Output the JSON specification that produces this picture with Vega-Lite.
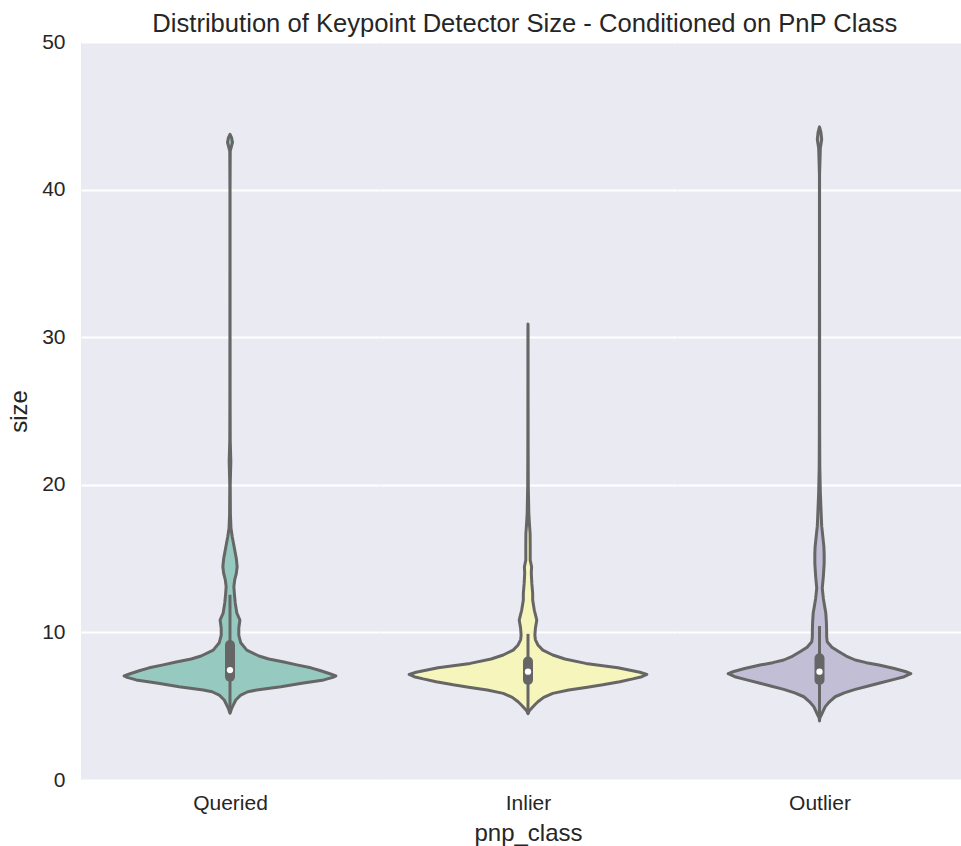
{
  "$schema": "https://vega.github.io/schema/vega-lite/v6.json",
  "background": "white",
  "padding": {"left": 7, "top": 12, "right": 0, "bottom": 4},
  "title": {"text": "Distribution of Keypoint Detector Size - Conditioned on PnP Class", "font": "Liberation Sans", "fontSize": 25.6, "fontWeight": "normal", "color": "#262626", "anchor": "middle", "dx": 40, "offset": -7},
  "spacing": 0,
  "bounds": "flush",
  "datasets": {
    "violin": [
      {"class": "Queried", "size": 4.52, "density": 0},
      {"class": "Queried", "size": 4.8, "density": 0.005},
      {"class": "Queried", "size": 5.0, "density": 0.010},
      {"class": "Queried", "size": 5.42, "density": 0.021},
      {"class": "Queried", "size": 5.75, "density": 0.039},
      {"class": "Queried", "size": 5.98, "density": 0.065},
      {"class": "Queried", "size": 6.1, "density": 0.097},
      {"class": "Queried", "size": 6.32, "density": 0.185},
      {"class": "Queried", "size": 6.55, "density": 0.261},
      {"class": "Queried", "size": 6.78, "density": 0.341},
      {"class": "Queried", "size": 6.95, "density": 0.374},
      {"class": "Queried", "size": 7.05, "density": 0.385},
      {"class": "Queried", "size": 7.2, "density": 0.363},
      {"class": "Queried", "size": 7.4, "density": 0.330},
      {"class": "Queried", "size": 7.6, "density": 0.294},
      {"class": "Queried", "size": 7.8, "density": 0.243},
      {"class": "Queried", "size": 8.0, "density": 0.196},
      {"class": "Queried", "size": 8.2, "density": 0.141},
      {"class": "Queried", "size": 8.4, "density": 0.105},
      {"class": "Queried", "size": 8.8, "density": 0.061},
      {"class": "Queried", "size": 9.3, "density": 0.039},
      {"class": "Queried", "size": 9.8, "density": 0.032},
      {"class": "Queried", "size": 10.3, "density": 0.032},
      {"class": "Queried", "size": 10.84, "density": 0.036},
      {"class": "Queried", "size": 11.3, "density": 0.025},
      {"class": "Queried", "size": 12.0, "density": 0.019},
      {"class": "Queried", "size": 12.6, "density": 0.016},
      {"class": "Queried", "size": 13.1, "density": 0.014},
      {"class": "Queried", "size": 13.55, "density": 0.017},
      {"class": "Queried", "size": 14.0, "density": 0.023},
      {"class": "Queried", "size": 14.45, "density": 0.026},
      {"class": "Queried", "size": 15.0, "density": 0.023},
      {"class": "Queried", "size": 15.8, "density": 0.015},
      {"class": "Queried", "size": 16.5, "density": 0.008},
      {"class": "Queried", "size": 17.05, "density": 0.0036},
      {"class": "Queried", "size": 18.0, "density": 0.0015},
      {"class": "Queried", "size": 20.0, "density": 0.0008},
      {"class": "Queried", "size": 21.6, "density": 0.003},
      {"class": "Queried", "size": 23.0, "density": 0.0008},
      {"class": "Queried", "size": 26.0, "density": 0.0004},
      {"class": "Queried", "size": 30.0, "density": 0.0003},
      {"class": "Queried", "size": 35.0, "density": 0.0002},
      {"class": "Queried", "size": 40.0, "density": 0.0002},
      {"class": "Queried", "size": 42.6, "density": 0.0008},
      {"class": "Queried", "size": 43.2, "density": 0.009},
      {"class": "Queried", "size": 43.5, "density": 0.006},
      {"class": "Queried", "size": 43.75, "density": 0},
      {"class": "Inlier", "size": 4.5, "density": 0},
      {"class": "Inlier", "size": 4.7, "density": 0.005},
      {"class": "Inlier", "size": 4.88, "density": 0.014},
      {"class": "Inlier", "size": 5.1, "density": 0.025},
      {"class": "Inlier", "size": 5.3, "density": 0.036},
      {"class": "Inlier", "size": 5.6, "density": 0.057},
      {"class": "Inlier", "size": 5.87, "density": 0.090},
      {"class": "Inlier", "size": 6.1, "density": 0.148},
      {"class": "Inlier", "size": 6.27, "density": 0.210},
      {"class": "Inlier", "size": 6.45, "density": 0.272},
      {"class": "Inlier", "size": 6.66, "density": 0.334},
      {"class": "Inlier", "size": 6.85, "density": 0.381},
      {"class": "Inlier", "size": 7.0, "density": 0.414},
      {"class": "Inlier", "size": 7.15, "density": 0.432},
      {"class": "Inlier", "size": 7.3, "density": 0.407},
      {"class": "Inlier", "size": 7.45, "density": 0.367},
      {"class": "Inlier", "size": 7.6, "density": 0.327},
      {"class": "Inlier", "size": 7.9, "density": 0.210},
      {"class": "Inlier", "size": 8.2, "density": 0.134},
      {"class": "Inlier", "size": 8.47, "density": 0.090},
      {"class": "Inlier", "size": 8.8, "density": 0.054},
      {"class": "Inlier", "size": 9.15, "density": 0.036},
      {"class": "Inlier", "size": 9.5, "density": 0.027},
      {"class": "Inlier", "size": 9.8, "density": 0.025},
      {"class": "Inlier", "size": 10.3, "density": 0.027},
      {"class": "Inlier", "size": 10.84, "density": 0.032},
      {"class": "Inlier", "size": 11.2, "density": 0.027},
      {"class": "Inlier", "size": 11.5, "density": 0.023},
      {"class": "Inlier", "size": 12.2, "density": 0.017},
      {"class": "Inlier", "size": 12.65, "density": 0.017},
      {"class": "Inlier", "size": 13.3, "density": 0.014},
      {"class": "Inlier", "size": 14.0, "density": 0.012},
      {"class": "Inlier", "size": 14.45, "density": 0.013},
      {"class": "Inlier", "size": 14.9, "density": 0.008},
      {"class": "Inlier", "size": 15.8, "density": 0.008},
      {"class": "Inlier", "size": 16.7, "density": 0.0076},
      {"class": "Inlier", "size": 17.4, "density": 0.005},
      {"class": "Inlier", "size": 18.07, "density": 0.003},
      {"class": "Inlier", "size": 19.87, "density": 0.0011},
      {"class": "Inlier", "size": 22.0, "density": 0.0006},
      {"class": "Inlier", "size": 25.0, "density": 0.0004},
      {"class": "Inlier", "size": 28.0, "density": 0.0003},
      {"class": "Inlier", "size": 30.5, "density": 0.0002},
      {"class": "Inlier", "size": 30.9, "density": 0},
      {"class": "Outlier", "size": 4.0, "density": 0},
      {"class": "Outlier", "size": 4.2, "density": 0.001},
      {"class": "Outlier", "size": 4.4, "density": 0.0065},
      {"class": "Outlier", "size": 4.7, "density": 0.014},
      {"class": "Outlier", "size": 4.97, "density": 0.021},
      {"class": "Outlier", "size": 5.3, "density": 0.036},
      {"class": "Outlier", "size": 5.64, "density": 0.057},
      {"class": "Outlier", "size": 5.9, "density": 0.090},
      {"class": "Outlier", "size": 6.14, "density": 0.130},
      {"class": "Outlier", "size": 6.35, "density": 0.174},
      {"class": "Outlier", "size": 6.55, "density": 0.216},
      {"class": "Outlier", "size": 6.8, "density": 0.268},
      {"class": "Outlier", "size": 7.0, "density": 0.308},
      {"class": "Outlier", "size": 7.2, "density": 0.332},
      {"class": "Outlier", "size": 7.35, "density": 0.312},
      {"class": "Outlier", "size": 7.55, "density": 0.272},
      {"class": "Outlier", "size": 7.79, "density": 0.216},
      {"class": "Outlier", "size": 7.95, "density": 0.170},
      {"class": "Outlier", "size": 8.13, "density": 0.130},
      {"class": "Outlier", "size": 8.4, "density": 0.097},
      {"class": "Outlier", "size": 8.69, "density": 0.071},
      {"class": "Outlier", "size": 9.0, "density": 0.045},
      {"class": "Outlier", "size": 9.37, "density": 0.028},
      {"class": "Outlier", "size": 9.7, "density": 0.026},
      {"class": "Outlier", "size": 10.05, "density": 0.026},
      {"class": "Outlier", "size": 10.7, "density": 0.025},
      {"class": "Outlier", "size": 11.29, "density": 0.023},
      {"class": "Outlier", "size": 11.74, "density": 0.019},
      {"class": "Outlier", "size": 12.3, "density": 0.014},
      {"class": "Outlier", "size": 12.99, "density": 0.010},
      {"class": "Outlier", "size": 13.8, "density": 0.014},
      {"class": "Outlier", "size": 14.68, "density": 0.017},
      {"class": "Outlier", "size": 15.3, "density": 0.017},
      {"class": "Outlier", "size": 15.8, "density": 0.016},
      {"class": "Outlier", "size": 16.5, "density": 0.012},
      {"class": "Outlier", "size": 17.2, "density": 0.008},
      {"class": "Outlier", "size": 17.84, "density": 0.0065},
      {"class": "Outlier", "size": 19.5, "density": 0.003},
      {"class": "Outlier", "size": 21.2, "density": 0.0011},
      {"class": "Outlier", "size": 23.5, "density": 0.0006},
      {"class": "Outlier", "size": 27.0, "density": 0.0004},
      {"class": "Outlier", "size": 32.0, "density": 0.0003},
      {"class": "Outlier", "size": 37.0, "density": 0.0002},
      {"class": "Outlier", "size": 41.0, "density": 0.0002},
      {"class": "Outlier", "size": 42.8, "density": 0.003},
      {"class": "Outlier", "size": 43.4, "density": 0.008},
      {"class": "Outlier", "size": 43.9, "density": 0.005},
      {"class": "Outlier", "size": 44.25, "density": 0}
    ],
    "box": [
      {"class": "Queried", "q1": 7.0, "q3": 9.15, "median": 7.45, "lo": 4.55, "hi": 12.55},
      {"class": "Inlier", "q1": 6.78, "q3": 8.02, "median": 7.34, "lo": 4.5, "hi": 9.9},
      {"class": "Outlier", "q1": 6.78, "q3": 8.25, "median": 7.34, "lo": 4.0, "hi": 10.43}
    ]
  },
  "config": {
    "view": {"fill": "#EAEAF2", "stroke": null},
    "axis": {"gridColor": "white", "gridWidth": 2, "domain": false, "ticks": false, "labelFont": "Liberation Sans", "titleFont": "Liberation Sans", "labelFontSize": 21, "titleFontSize": 24, "labelColor": "#262626", "titleColor": "#262626", "titleFontWeight": "normal"},
    "axisY": {"labelPadding": 16, "titlePadding": 10, "grid": true},
    "axisX": {"grid": false, "labelPadding": 12, "titlePadding": 8, "labelFlush": false, "labelOverlap": false}
  },
  "hconcat": [
    {
      "width": 298, "height": 738,
      "layer": [
        {"data": {"name": "violin"}, "transform": [{"filter": {"field": "class", "equal": "Queried"}}],
         "mark": {"type": "area", "orient": "horizontal", "fill": "#96cac1", "stroke": "#666666", "strokeWidth": 3, "strokeJoin": "round", "opacity": 1},
         "encoding": {
           "y": {"field": "size", "type": "quantitative", "title": "size", "scale": {"domain": [0, 50], "nice": false, "zero": false}, "axis": {"values": [0, 10, 20, 30, 40, 50]}},
           "x": {"field": "density", "type": "quantitative", "stack": "center", "title": null, "scale": {"domain": [-0.0784, 0.4634], "nice": false, "zero": false}, "axis": {"values": [0.1925], "labelExpr": "'Queried'"}}
         }},
        {"data": {"name": "box"}, "transform": [{"filter": {"field": "class", "equal": "Queried"}}],
         "mark": {"type": "rule", "color": "#666666", "strokeWidth": 3},
         "encoding": {"y": {"field": "lo", "type": "quantitative", "title": "size"}, "y2": {"field": "hi"}, "x": {"datum": 0.1925, "type": "quantitative", "title": null}}},
        {"data": {"name": "box"}, "transform": [{"filter": {"field": "class", "equal": "Queried"}}],
         "mark": {"type": "rule", "color": "#666666", "strokeWidth": 10, "strokeCap": "round"},
         "encoding": {"y": {"field": "q1", "type": "quantitative", "title": "size"}, "y2": {"field": "q3"}, "x": {"datum": 0.1925, "type": "quantitative", "title": null}}},
        {"data": {"name": "box"}, "transform": [{"filter": {"field": "class", "equal": "Queried"}}],
         "mark": {"type": "circle", "color": "white", "size": 40, "opacity": 1},
         "encoding": {"y": {"field": "median", "type": "quantitative", "title": "size"}, "x": {"datum": 0.1925, "type": "quantitative", "title": null}}}
      ]
    },
    {
      "width": 298, "height": 738,
      "layer": [
        {"data": {"name": "violin"}, "transform": [{"filter": {"field": "class", "equal": "Inlier"}}],
         "mark": {"type": "area", "orient": "horizontal", "fill": "#f6f6bc", "stroke": "#666666", "strokeWidth": 3, "strokeJoin": "round", "opacity": 1},
         "encoding": {
           "y": {"field": "size", "type": "quantitative", "title": null, "scale": {"domain": [0, 50], "nice": false, "zero": false}, "axis": {"values": [0, 10, 20, 30, 40, 50], "labels": false}},
           "x": {"field": "density", "type": "quantitative", "stack": "center", "title": "pnp_class", "scale": {"domain": [-0.0549, 0.4869], "nice": false, "zero": false}, "axis": {"values": [0.216], "labelExpr": "'Inlier'"}}
         }},
        {"data": {"name": "box"}, "transform": [{"filter": {"field": "class", "equal": "Inlier"}}],
         "mark": {"type": "rule", "color": "#666666", "strokeWidth": 3},
         "encoding": {"y": {"field": "lo", "type": "quantitative", "title": null}, "y2": {"field": "hi"}, "x": {"datum": 0.216, "type": "quantitative", "title": "pnp_class"}}},
        {"data": {"name": "box"}, "transform": [{"filter": {"field": "class", "equal": "Inlier"}}],
         "mark": {"type": "rule", "color": "#666666", "strokeWidth": 10, "strokeCap": "round"},
         "encoding": {"y": {"field": "q1", "type": "quantitative", "title": null}, "y2": {"field": "q3"}, "x": {"datum": 0.216, "type": "quantitative", "title": "pnp_class"}}},
        {"data": {"name": "box"}, "transform": [{"filter": {"field": "class", "equal": "Inlier"}}],
         "mark": {"type": "circle", "color": "white", "size": 40, "opacity": 1},
         "encoding": {"y": {"field": "median", "type": "quantitative", "title": null}, "x": {"datum": 0.216, "type": "quantitative", "title": "pnp_class"}}}
      ]
    },
    {
      "width": 285, "height": 738,
      "layer": [
        {"data": {"name": "violin"}, "transform": [{"filter": {"field": "class", "equal": "Outlier"}}],
         "mark": {"type": "area", "orient": "horizontal", "fill": "#c1bed6", "stroke": "#666666", "strokeWidth": 3, "strokeJoin": "round", "opacity": 1},
         "encoding": {
           "y": {"field": "size", "type": "quantitative", "title": null, "scale": {"domain": [0, 50], "nice": false, "zero": false}, "axis": {"values": [0, 10, 20, 30, 40, 50], "labels": false}},
           "x": {"field": "density", "type": "quantitative", "stack": "center", "title": null, "scale": {"domain": [-0.0931, 0.4251], "nice": false, "zero": false}, "axis": {"values": [0.166], "labelExpr": "'Outlier'"}}
         }},
        {"data": {"name": "box"}, "transform": [{"filter": {"field": "class", "equal": "Outlier"}}],
         "mark": {"type": "rule", "color": "#666666", "strokeWidth": 3},
         "encoding": {"y": {"field": "lo", "type": "quantitative", "title": null}, "y2": {"field": "hi"}, "x": {"datum": 0.166, "type": "quantitative", "title": null}}},
        {"data": {"name": "box"}, "transform": [{"filter": {"field": "class", "equal": "Outlier"}}],
         "mark": {"type": "rule", "color": "#666666", "strokeWidth": 10, "strokeCap": "round"},
         "encoding": {"y": {"field": "q1", "type": "quantitative", "title": null}, "y2": {"field": "q3"}, "x": {"datum": 0.166, "type": "quantitative", "title": null}}},
        {"data": {"name": "box"}, "transform": [{"filter": {"field": "class", "equal": "Outlier"}}],
         "mark": {"type": "circle", "color": "white", "size": 40, "opacity": 1},
         "encoding": {"y": {"field": "median", "type": "quantitative", "title": null}, "x": {"datum": 0.166, "type": "quantitative", "title": null}}}
      ]
    }
  ]
}
